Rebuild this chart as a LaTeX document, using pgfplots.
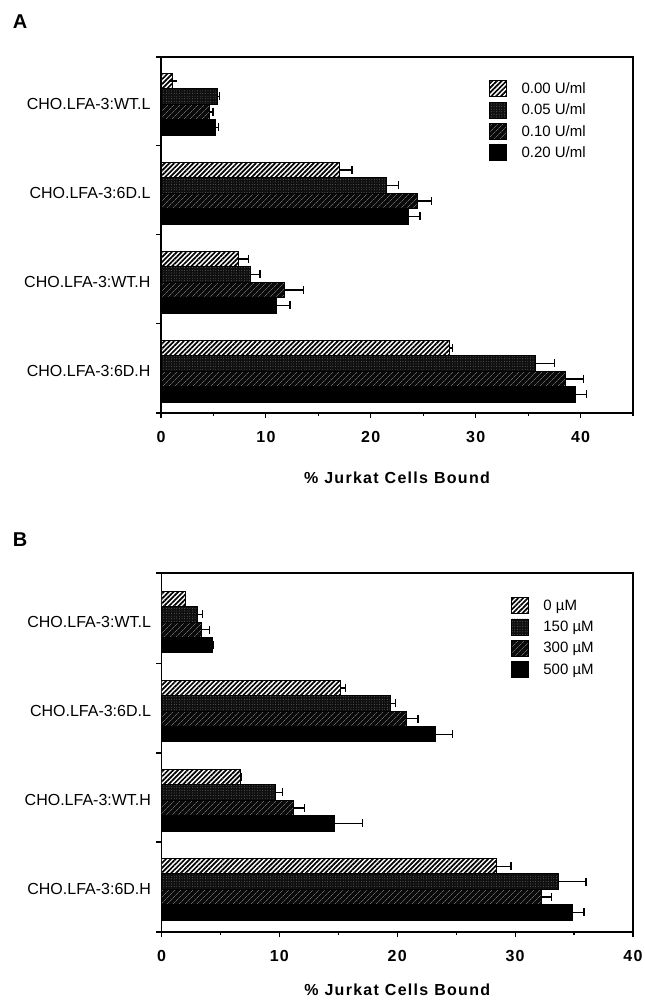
\documentclass[border=0pt]{standalone}
\usepackage{fontspec}
\setmainfont{Liberation Sans}
\newfontfamily\spaced[LetterSpace=8]{Liberation Sans}
\usepackage{pgfplots}
\pgfplotsset{compat=1.18}
\usetikzlibrary{patterns.meta}

\tikzset{
 sA/.style={draw=black, line width=0.8pt, fill=white, postaction={pattern={Lines[angle=45,distance=3.4pt,line width=1.7pt]}, pattern color=black}},
 sB/.style={draw=black, line width=0.8pt, fill=black!94, postaction={pattern={Dots[distance=2.6pt,radius=0.4pt]}, pattern color=black!50}},
 sC/.style={draw=black, line width=0.8pt, fill=black!96, postaction={pattern={Lines[angle=45,distance=4pt,line width=0.3pt]}, pattern color=black!40}},
 sD/.style={draw=black, line width=0.8pt, fill=black},
}

\pgfplotsset{
 panel/.style={
  scale only axis,
  xbar,
  bar width=15.4pt,
  y dir=reverse,
  axis line style={line width=1.3pt},
  tick align=outside,
  xtick pos=left, ytick pos=left,
  major tick length=5pt,
  minor tick length=3pt,
  every tick/.style={black, line width=1.2pt},
  xtick={0,10,20,30,40},
  xticklabels={0,10,20,30,40},
  /pgf/number format/assume math mode=true,
  xticklabel style={font=\spaced\bfseries\fontsize{16}{16}\selectfont, anchor=center, yshift=-19pt},
  yticklabels={},
  extra y tick labels={CHO.LFA-3:WT.L, CHO.LFA-3:6D.L, CHO.LFA-3:WT.H, CHO.LFA-3:6D.H},
  extra y ticks={0,1,2,3},
  extra y tick style={major tick length=0pt, yticklabel style={font=\fontsize{16}{16}\selectfont, xshift=-7pt}},
  xlabel={\spaced\bfseries \%\hspace{6pt}Jurkat\hspace{6pt}Cells\hspace{6pt}Bound},
  xlabel style={at={(axis description cs:0.5,0)}, anchor=center, font=\fontsize{16}{16}\selectfont},
  error bars/x dir=plus,
  error bars/x explicit,
  error bars/error mark=|,
  error bars/error bar style={line width=1.3pt, black},
  error bars/error mark options={black, line width=1.3pt, mark size=4pt},
  legend cell align=left,
  legend image code/.code={\draw[##1] (0pt,-8pt) rectangle (17pt,8pt);},
  legend style={draw=none, fill=none, anchor=north west, font=\fontsize{15}{15}\selectfont,
    row sep=4.5pt, inner sep=0pt, nodes={inner sep=1.5pt},
    /tikz/every odd column/.append style={column sep=13pt}},
 }
}

\begin{document}
\begin{tikzpicture}
\useasboundingbox (0,0) rectangle (645pt,-1001pt);
\node[font=\bfseries\fontsize{20}{20}\selectfont] at (20pt,-22pt) {A};
\node[font=\bfseries\fontsize{20}{20}\selectfont] at (20pt,-540pt) {B};

\begin{axis}[panel,
  at={(161pt,-57pt)}, anchor=north west,
  width=472pt, height=356pt,
  xmin=0, xmax=45,
  minor xtick={5,15,25,35,45},
  ymin=-0.53, ymax=3.47,
  ytick={-0.53,0.46,1.46,2.46,3.47},
  xlabel style={yshift=-65pt},
  legend style={at={(0.695,0.935)}},
]
\addplot[sA, bar shift=23.1pt] coordinates {(1.1,0) +- (0,0) (17.0,1) +- (1.2,0) (7.4,2) +- (0.95,0) (27.5,3) +- (0.3,0)};
\addplot[sB, bar shift=7.7pt] coordinates {(5.4,0) +- (0.2,0) (21.5,1) +- (1.15,0) (8.5,2) +- (0.95,0) (35.7,3) +- (1.8,0)};
\addplot[sC, bar shift=-7.7pt] coordinates {(4.6,0) +- (0.35,0) (24.4,1) +- (1.4,0) (11.8,2) +- (1.8,0) (38.6,3) +- (1.7,0)};
\addplot[sD, bar shift=-23.1pt] coordinates {(5.2,0) +- (0.3,0) (23.6,1) +- (1.1,0) (11.0,2) +- (1.3,0) (39.5,3) +- (1.1,0)};
\legend{0.00 U/ml, 0.05 U/ml, 0.10 U/ml, 0.20 U/ml}
\end{axis}

\begin{axis}[panel,
  at={(161.5pt,-573pt)}, anchor=north west,
  width=471.5pt, height=359pt,
  xmin=0, xmax=40,
  minor xtick={5,15,25,35},
  ymin=-0.55, ymax=3.48,
  ytick={-0.55,0.47,1.47,2.47,3.48},
  xlabel style={yshift=-58pt},
  legend style={at={(0.741,0.933)}},
]
\addplot[sA, bar shift=23.1pt] coordinates {(2.0,0) +- (0.05,0) (15.2,1) +- (0.4,0) (6.7,2) +- (0.1,0) (28.4,3) +- (1.25,0)};
\addplot[sB, bar shift=7.7pt] coordinates {(3.05,0) +- (0.45,0) (19.4,1) +- (0.45,0) (9.7,2) +- (0.55,0) (33.7,3) +- (2.3,0)};
\addplot[sC, bar shift=-7.7pt] coordinates {(3.35,0) +- (0.7,0) (20.8,1) +- (0.95,0) (11.2,2) +- (0.95,0) (32.2,3) +- (0.9,0)};
\addplot[sD, bar shift=-23.1pt] coordinates {(4.3,0) +- (0.1,0) (23.2,1) +- (1.5,0) (14.65,2) +- (2.4,0) (34.9,3) +- (0.95,0)};
\legend{0 µM, 150 µM, 300 µM, 500 µM}
\end{axis}
\end{tikzpicture}
\end{document}
